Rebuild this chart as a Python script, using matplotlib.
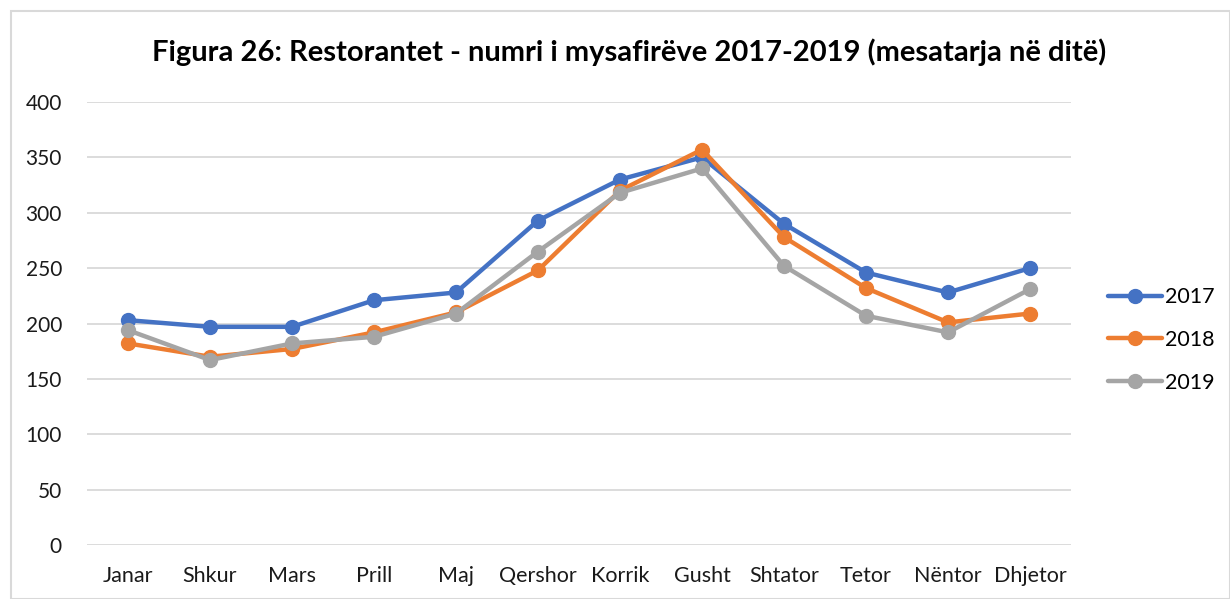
import matplotlib
matplotlib.use("Agg")
import matplotlib.pyplot as plt
from matplotlib.patches import Rectangle

months = ["Janar", "Shkur", "Mars", "Prill", "Maj", "Qershor", "Korrik",
          "Gusht", "Shtator", "Tetor", "Nëntor", "Dhjetor"]
s2017 = [203, 197, 197, 221, 228, 293, 330, 350, 290, 246, 228, 250]
s2018 = [182, 170, 177, 192, 210, 248, 320, 357, 278, 232, 201, 209]
s2019 = [194, 167, 182, 188, 209, 265, 318, 340, 252, 207, 192, 231]
series_names = ["2017", "2018", "2019"]
colors = ["#4472C4", "#ED7D31", "#A5A5A5"]
yticks = [0, 50, 100, 150, 200, 250, 300, 350, 400]

plt.rcParams['font.family'] = ['Lato', 'DejaVu Sans']

fig = plt.figure(figsize=(12.3, 5.99), dpi=100)
W, H = 1230, 599
ax = fig.add_axes([87 / W, 1 - 545 / H, (1071 - 87) / W, (545 - 102) / H])

x = list(range(len(months)))
for name, vals, c in zip(series_names, [s2017, s2018, s2019], colors):
    ax.plot(x, vals, color=c, linewidth=3.2, marker='o', markersize=10,
            label=name, solid_capstyle='round', solid_joinstyle='round')

ax.set_xlim(-0.5, len(months) - 0.5)
ax.set_ylim(0, 400)
ax.set_yticks(yticks)
ax.set_yticklabels([str(v) for v in yticks], fontsize=15)
ax.set_xticks(x)
ax.set_xticklabels(months, fontsize=15.5)
ax.yaxis.grid(True, color="#D9D9D9", linewidth=1.3)
ax.set_axisbelow(True)
for s in ax.spines.values():
    s.set_visible(False)
ax.tick_params(axis='both', length=0, colors="#404040", labelcolor="#1a1a1a")
ax.tick_params(axis='y', pad=18)
ax.tick_params(axis='x', pad=15)

fig.text(629 / W, 1 - 52 / H,
         "Figura 26: Restorantet - numri i mysafirëve 2017-2019 (mesatarja në ditë)",
         ha='center', va='center', fontsize=21, fontweight='bold', color='black')

leg = fig.legend(loc='center left', bbox_to_anchor=(1108 / W, 1 - 340 / H),
                 frameon=False, fontsize=15.5, labelspacing=1.05,
                 handlelength=2.5, handletextpad=0.15, borderpad=0,
                 borderaxespad=0)

fig.patches.append(Rectangle((11 / W, 0), 1 - 11 / W, 1 - 11 / H,
                             transform=fig.transFigure, fill=False,
                             edgecolor="#D9D9D9", linewidth=1.5))

fig.savefig("out.png", dpi=100)
